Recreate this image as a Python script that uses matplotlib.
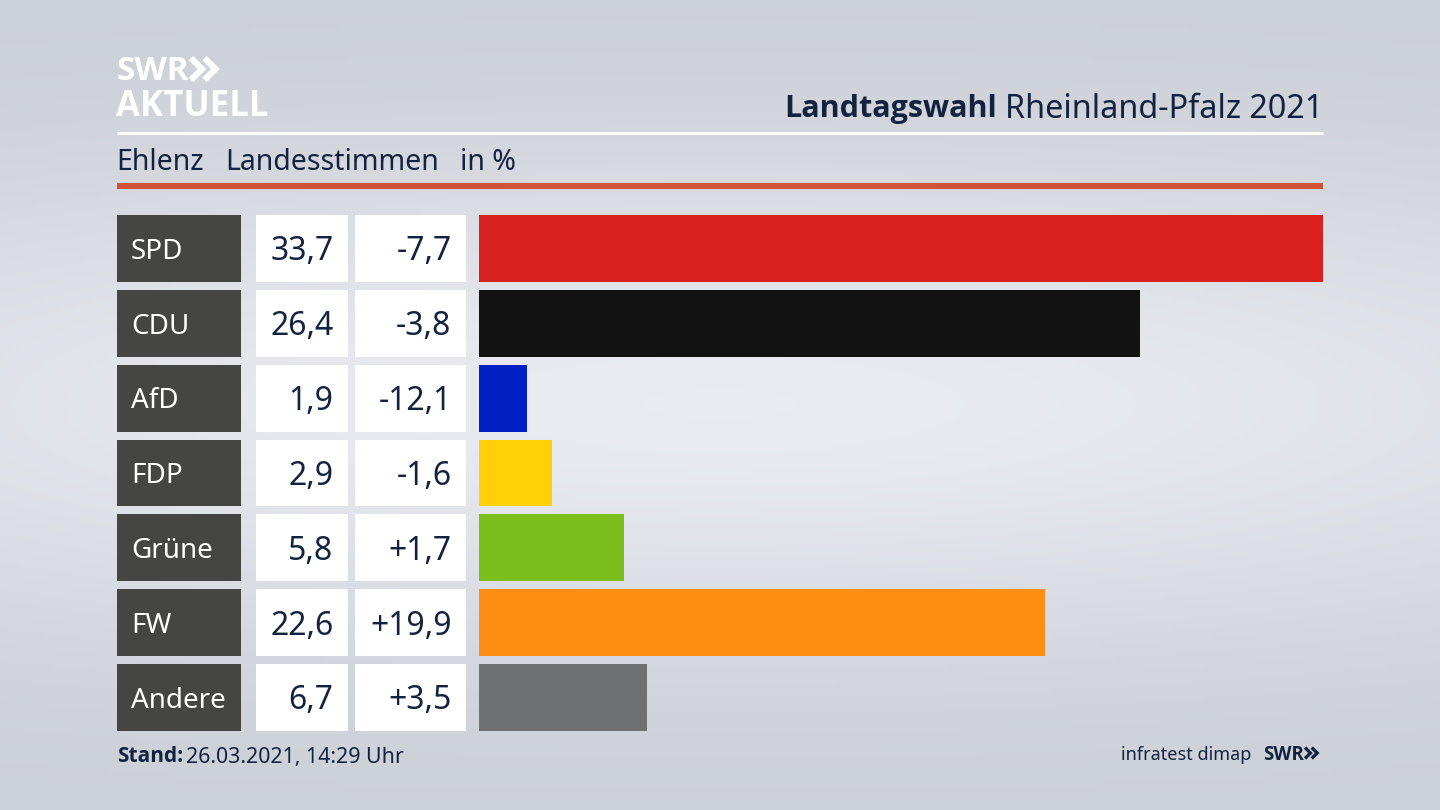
import numpy as np
import matplotlib
matplotlib.use("Agg")
import matplotlib.pyplot as plt

parties = ["SPD", "CDU", "AfD", "FDP", "Grüne", "FW", "Andere"]
shares = [33.7, 26.4, 1.9, 2.9, 5.8, 22.6, 6.7]
changes = [-7.7, -3.8, -12.1, -1.6, 1.7, 19.9, 3.5]
colors = ["#d8201f", "#121212", "#0020c4", "#ffcf08", "#7bbd1a", "#ff8f14", "#707173"]

NAVY = "#13233f"
W, H = 1440, 810
plt.rcParams["font.family"] = ["Noto Sans", "DejaVu Sans"]
BOLD = ["Open Sans", "DejaVu Sans"]


def comma(v, signed=False):
    s = f"{v:+.1f}" if signed else f"{v:.1f}"
    return s.replace(".", ",")


def chevrons(ax, x, y, size, color, lw):
    # the two arrows of the SWR logo
    for dx in (0, size * 0.52):
        ax.plot([x + dx, x + dx + size * 0.42, x + dx], [y - size * 0.42, y, y + size * 0.42],
                color=color, lw=lw, solid_joinstyle="miter", solid_capstyle="butt")


fig = plt.figure(figsize=(14.4, 8.1), dpi=100)

# page layer, in pixels
bg = fig.add_axes([0, 0, 1, 1])
bg.axis("off")
yy, xx = np.mgrid[0:1:200j, 0:1:356j]
glow = np.exp(-((yy - 0.5) / 0.3) ** 2) * np.exp(-((xx - 0.5) / 0.85) ** 2)
bg.imshow(glow, extent=(0, W, H, 0), cmap=matplotlib.colors.LinearSegmentedColormap.from_list(
    "page", ["#cbcfd6", "#e9ebf0"]), vmin=0, vmax=1, aspect="auto", zorder=0)
bg.set_xlim(0, W)
bg.set_ylim(H, 0)

# header
bg.text(117, 72, "SWR", color="white", fontsize=24, family=BOLD, fontweight="bold", va="center", ha="left")
chevrons(bg, 191, 69, 26, "white", 4.4)
bg.text(116, 107, "AKTUELL", color="white", fontsize=25, family=BOLD, fontweight="bold", va="center", ha="left")
bg.plot([117, 1323], [133, 133], color="white", lw=2.2, solid_capstyle="butt")
bg.fill_between([117, 1323], 183, 189, color="#cf533a", lw=0)
bg.text(1323, 110, "Rheinland-Pfalz 2021", color=NAVY, fontsize=23.3, va="center", ha="right")
bg.text(997, 109, "Landtagswahl", color=NAVY, fontsize=22, family=BOLD, fontweight="bold", va="center", ha="right")
bg.text(116, 163, "Ehlenz", color=NAVY, fontsize=20.5, va="center")
bg.text(225, 163, "Landesstimmen", color=NAVY, fontsize=20.5, va="center")
bg.text(460, 163, "in %", color=NAVY, fontsize=20.5, va="center")

# footer
bg.text(117, 757, "Stand:", color=NAVY, fontsize=15, family=BOLD, fontweight="bold", va="center")
bg.text(186, 757, "26.03.2021, 14:29 Uhr", color=NAVY, fontsize=15.4, va="center")
bg.text(1251, 755, "infratest dimap", color=NAVY, fontsize=13, va="center", ha="right")
bg.text(1263, 755, "SWR", color=NAVY, fontsize=13.5, family=BOLD, fontweight="bold", va="center")
chevrons(bg, 1305, 753, 13, NAVY, 2.4)

# table columns share the row scale with the bars
top, bottom = 215, 731
rows = np.arange(len(parties))
height = 66.8 / 74.9


def column(x0, x1):
    ax = fig.add_axes([x0 / W, 1 - bottom / H, (x1 - x0) / W, (bottom - top) / H])
    ax.set_ylim(len(parties) - 1 + height / 2, -height / 2)
    ax.axis("off")
    return ax


name_ax = column(117, 241)
name_ax.set_xlim(0, 1)
name_ax.barh(rows, 1, height=height, color="#454543")
share_ax = column(256, 348)
share_ax.set_xlim(0, 1)
share_ax.barh(rows, 1, height=height, color="white")
change_ax = column(355, 466)
change_ax.set_xlim(0, 1)
change_ax.barh(rows, 1, height=height, color="white")

for i, party in enumerate(parties):
    name_ax.text(14 / 124, i + 0.045, party, color="white", fontsize=20, va="center", ha="left")
    share_ax.text(77.5 / 92, i + 0.045, comma(shares[i]), color=NAVY, fontsize=23, va="center", ha="right")
    change_ax.text(96.5 / 111, i + 0.045, comma(changes[i], signed=True), color=NAVY, fontsize=23, va="center", ha="right")

bar_ax = column(479, 1323)
bar_ax.set_xlim(0, max(shares))
bar_ax.barh(rows, shares, height=height, color=colors)

fig.savefig("out.png", dpi=100)
